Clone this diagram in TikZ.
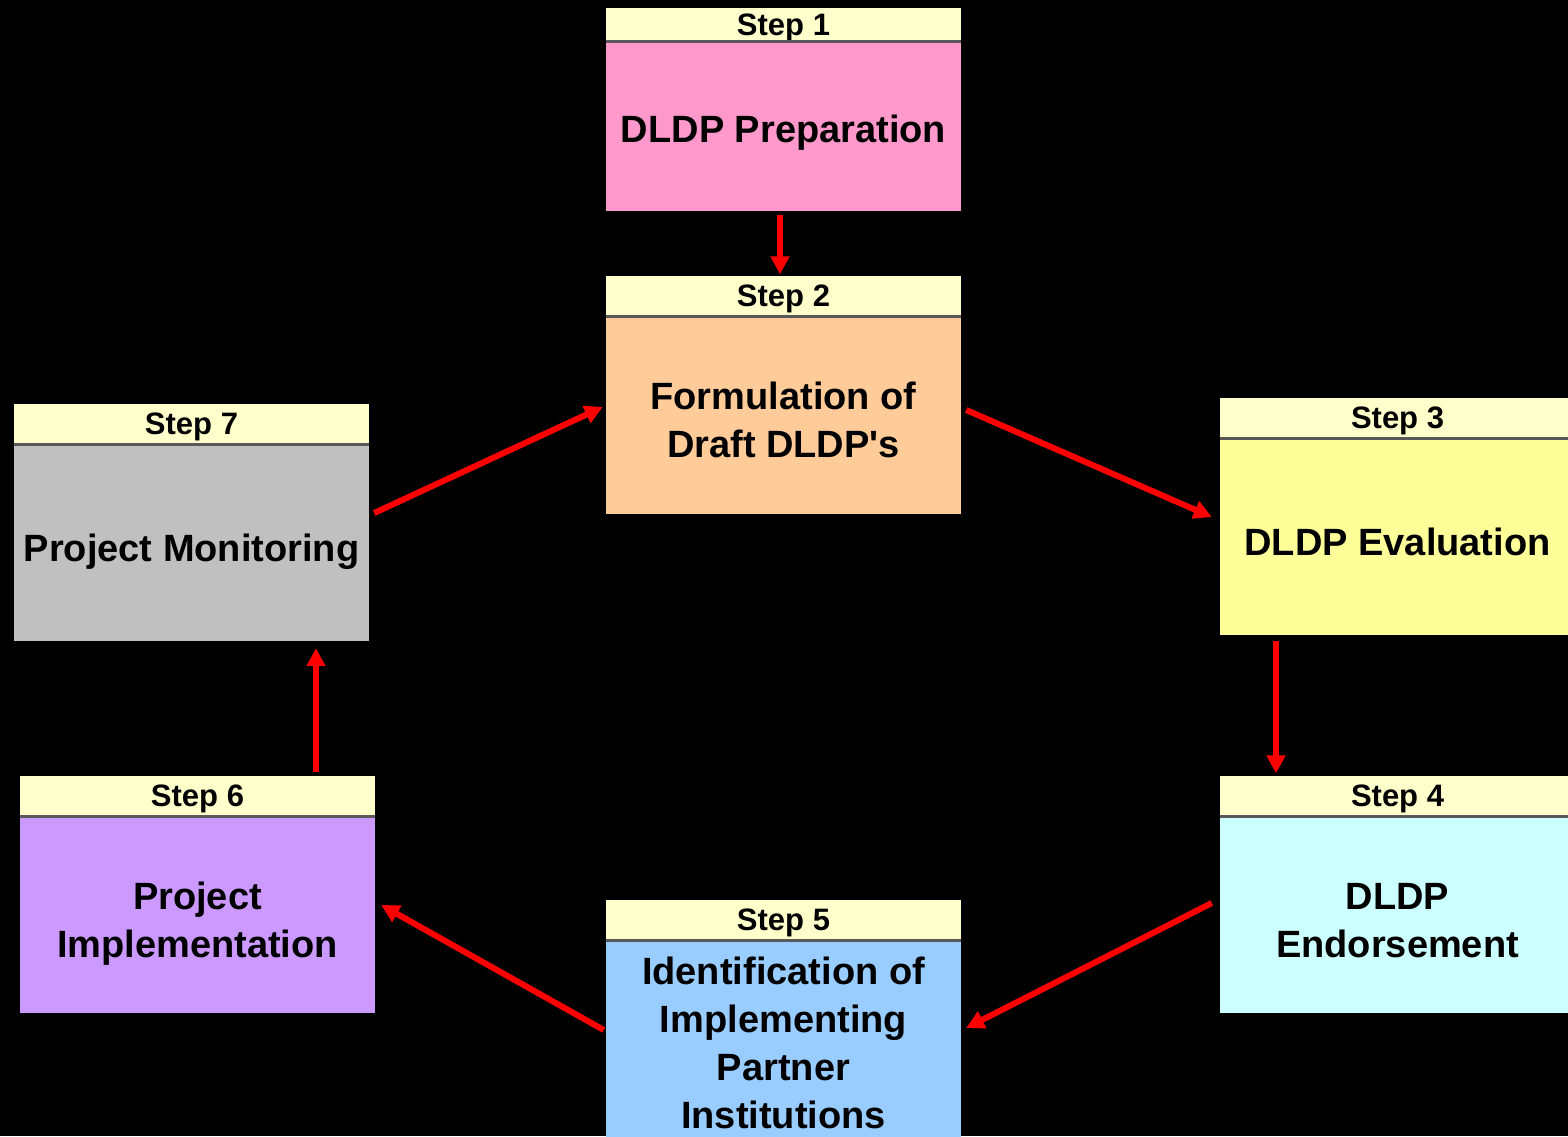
\documentclass[tikz,border=0pt]{standalone}
\usepackage{fontspec}
\setmainfont{Liberation Sans}
\usetikzlibrary{arrows.meta,positioning}
\definecolor{headyellow}{HTML}{FFFFCC}
\definecolor{stepone}{HTML}{FF99CC}
\definecolor{steptwo}{HTML}{FFCC99}
\definecolor{stepthree}{HTML}{FFFF99}
\definecolor{stepfour}{HTML}{CCFFFF}
\definecolor{stepfive}{HTML}{99CCFF}
\definecolor{stepsix}{HTML}{CC99FF}
\definecolor{stepseven}{HTML}{C0C0C0}
\begin{document}
\begin{tikzpicture}[
    x=1pt, y=1pt,
    node distance=0pt,
    body/.style={rectangle, inner sep=0pt, align=center, text depth=0pt, minimum width=355pt, minimum height=196pt, font=\fontsize{38}{48}\selectfont\bfseries},
    head/.style={rectangle, inner sep=0pt, fill=headyellow, text depth=0pt, minimum width=355pt, minimum height=41pt, font=\fontsize{31}{36}\selectfont\bfseries},
    sep/.style={draw=black!65, line width=3pt},
    arrow/.style={-{Triangle[length=18pt,width=18pt]}, line width=6pt, red}
]
\useasboundingbox (0,0) rectangle (1568,-1136);
\fill[black] (0,0) rectangle (1568,-1136);
\clip (0,0) rectangle (1568,-1136);
\node[body, fill=stepone, minimum height=169pt, text height=31pt] (s1) at (783.5,-126.5) {DLDP Preparation};
\node[head, minimum height=34pt, above=of s1] (h1) {Step 1};
\node[body, fill=steptwo, minimum height=197pt, text height=83pt] (s2) at (783.5,-415.5) {Formulation of\\Draft DLDP\textquotesingle s};
\node[head, above=of s2] (h2) {Step 2};
\node[body, fill=stepthree, text height=36pt] (s3) at (1397.5,-537) {DLDP Evaluation};
\node[head, above=of s3] (h3) {Step 3};
\node[body, fill=stepfour, text height=84pt] (s4) at (1397.5,-915) {DLDP\\Endorsement};
\node[head, above=of s4] (h4) {Step 4};
\node[body, fill=stepfive, minimum height=204pt] (s5) at (783.5,-1043) {Identification of\\Implementing\\Partner\\Institutions};
\node[head, above=of s5] (h5) {Step 5};
\node[body, fill=stepsix, text height=84pt] (s6) at (197.5,-915) {Project\\Implementation};
\node[head, above=of s6] (h6) {Step 6};
\node[body, fill=stepseven, text height=36pt] (s7) at (191.5,-543) {Project Monitoring};
\node[head, above=of s7] (h7) {Step 7};
\draw[sep] (h1.south west) -- (h1.south east);
\draw[sep] (h2.south west) -- (h2.south east);
\draw[sep] (h3.south west) -- (h3.south east);
\draw[sep] (h4.south west) -- (h4.south east);
\draw[sep] (h5.south west) -- (h5.south east);
\draw[sep] (h6.south west) -- (h6.south east);
\draw[sep] (h7.south west) -- (h7.south east);
\draw[arrow] ([xshift=-3.5pt,yshift=-4pt]s1.south) -- ([xshift=-3.5pt,yshift=1pt]h2.north);
\draw[arrow] ([xshift=5pt,yshift=5.5pt]s2.east) -- ([xshift=-8pt,yshift=20pt]s3.west);
\draw[arrow] ([xshift=-121.5pt,yshift=-6pt]s3.south) -- ([xshift=-121.5pt,yshift=2pt]h4.north);
\draw[arrow] ([xshift=-8pt,yshift=12pt]s4.west) -- ([xshift=5pt,yshift=15pt]s5.east);
\draw[arrow] ([xshift=-2pt,yshift=13pt]s5.west) -- ([xshift=6pt,yshift=10pt]s6.east);
\draw[arrow] ([xshift=118.5pt,yshift=3pt]h6.north) -- ([xshift=124.5pt,yshift=-7pt]s7.south);
\draw[arrow] ([xshift=5pt,yshift=30pt]s7.east) -- ([xshift=-3pt,yshift=8.5pt]s2.west);
\end{tikzpicture}
\end{document}
